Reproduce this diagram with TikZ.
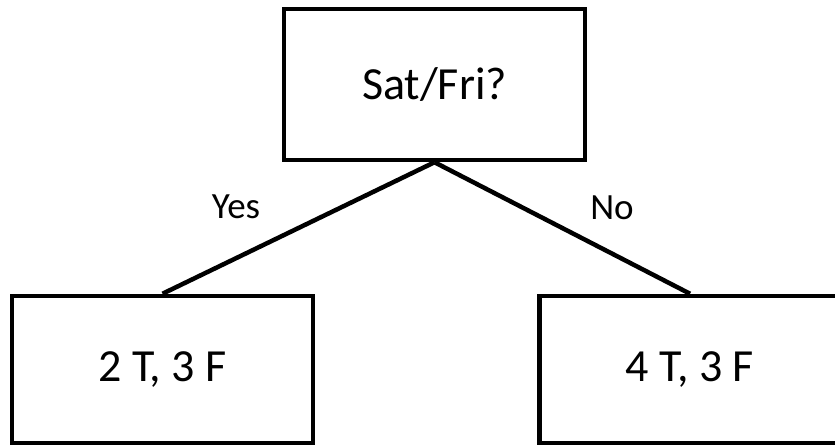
\documentclass[tikz,border=0pt]{standalone}
\usepackage{fontspec}
\setmainfont{Carlito}
\usepackage{tikz}

\begin{document}
\begin{tikzpicture}[x=1pt, y=-1pt,
    box/.style={draw, line width=4.5pt, minimum width=301pt, font=\fontsize{46}{52}\selectfont},
    branch/.style={font=\fontsize{37}{42}\selectfont}]
      \useasboundingbox (0,0) rectangle (835,447);
      \clip (0,0) rectangle (835,447);

      \node[box, minimum height=151pt] (root) at (434.5,84.5) {Sat/Fri?};
      \node[box, minimum height=147pt] (yesleaf) at (162.5,369.5) {2 T, 3 F};
      \node[box, minimum height=147pt] (noleaf) at (690,369.5) {4 T, 3 F};

      \draw[line width=4.5pt] (root.south) -- (yesleaf.north);
      \draw[line width=4.5pt] (root.south) -- (noleaf.north);

	\node[branch] (yes) at (236,207) {Yes};
	\node[branch] (no) at (612,208) {No};
    \end{tikzpicture}
\end{document}
